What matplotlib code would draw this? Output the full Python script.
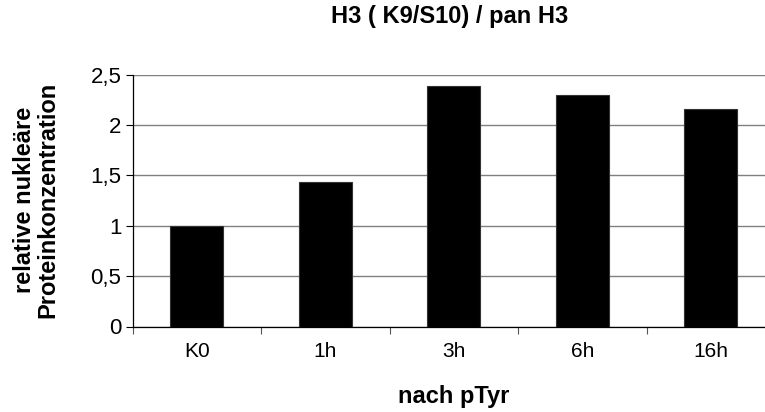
import matplotlib.pyplot as plt

plt.rcParams["font.family"] = ["Liberation Sans", "DejaVu Sans"]

categories = ["K0", "1h", "3h", "6h", "16h"]
values = [1.0, 1.43, 2.39, 2.30, 2.16]
yticks = [0, 0.5, 1, 1.5, 2, 2.5]
ytick_labels = ["0", "0,5", "1", "1,5", "2", "2,5"]

W, H = 765, 412
fig = plt.figure(figsize=(W / 100, H / 100), dpi=100)
# plot area runs past the right edge of the figure, as in the source image
ax = fig.add_axes([132.5 / W, (H - 326.5) / H, 642.5 / W, 252 / H])

x = range(len(categories))
ax.bar(x, values, width=0.41, color="black", edgecolor="#333333",
       linewidth=0.8, zorder=3)

ax.set_xlim(-0.5, len(categories) - 0.5)
ax.set_ylim(0, 2.5)
ax.set_yticks(yticks)
ax.set_yticklabels(ytick_labels)
ax.set_xticks([i - 0.5 for i in range(len(categories) + 1)])
ax.set_xticklabels([])
ax.set_xticks(list(x), minor=True)
ax.set_xticklabels(categories, minor=True)
ax.tick_params(axis="x", which="minor", length=0, pad=11, labelsize=15)
ax.tick_params(axis="x", which="major", length=5, width=0.8, color="#555555")
ax.tick_params(axis="y", length=5, width=0.8, labelsize=16, pad=3)

ax.yaxis.grid(True, color="#808080", linewidth=1.0, zorder=0)
ax.set_axisbelow(True)
for side in ("top", "right"):
    ax.spines[side].set_visible(False)
ax.spines["left"].set_color("black")
ax.spines["bottom"].set_color("black")
ax.spines["left"].set_linewidth(0.9)
ax.spines["bottom"].set_linewidth(0.9)

fig.text(450 / W, 1 - 16 / H, "H3 ( K9/S10) / pan H3", ha="center",
         va="center", fontsize=17, fontweight="bold")
fig.text(454 / W, 1 - 396 / H, "nach pTyr", ha="center", va="center",
         fontsize=17, fontweight="bold")
fig.text(36 / W, 1 - 200 / H, "relative nukleäre\nProteinkonzentration",
         ha="center", va="center", rotation=90, fontsize=17,
         fontweight="bold", linespacing=1.05)

fig.savefig("out.png", dpi=100)
